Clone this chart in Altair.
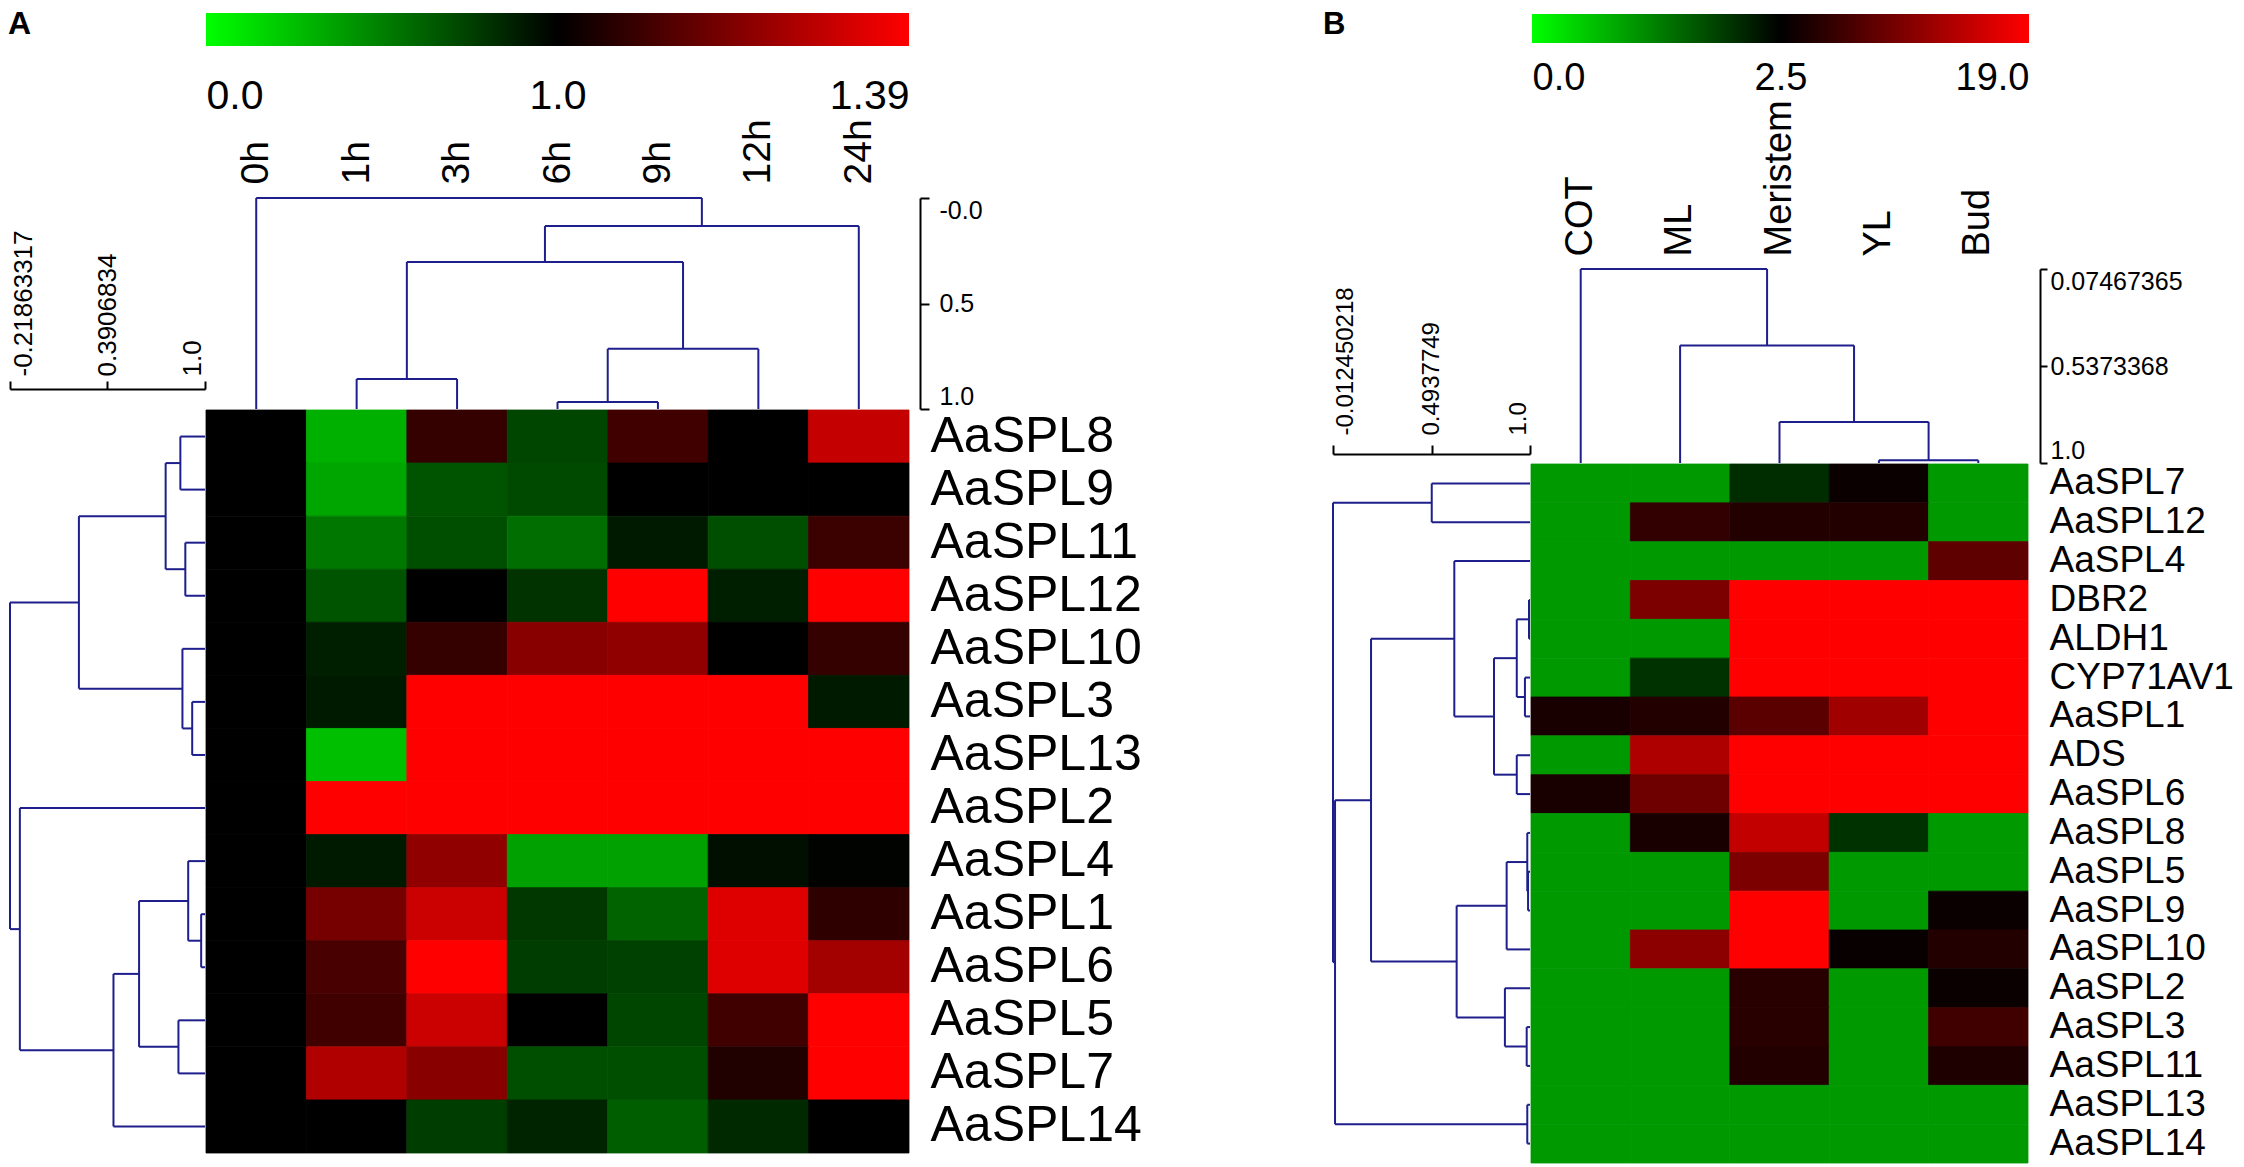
import altair as alt
import pandas as pd

FONT = "Liberation Sans"
DEND_COLOR = "#1e1e8c"
W, H = 2228, 1151

# ---------------- Panel A data ----------------
a_cols = ["0h", "1h", "3h", "6h", "9h", "12h", "24h"]
a_rows = ["AaSPL8", "AaSPL9", "AaSPL11", "AaSPL12", "AaSPL10", "AaSPL3", "AaSPL13",
          "AaSPL2", "AaSPL4", "AaSPL1", "AaSPL6", "AaSPL5", "AaSPL7", "AaSPL14"]
a_values = [
    [1.00, 0.31, 1.08, 0.73, 1.10, 1.00, 1.30],
    [1.00, 0.35, 0.67, 0.71, 1.00, 1.00, 1.00],
    [1.00, 0.53, 0.69, 0.57, 0.90, 0.69, 1.09],
    [1.00, 0.67, 1.00, 0.80, 1.39, 0.88, 1.39],
    [1.00, 0.88, 1.08, 1.21, 1.22, 1.00, 1.08],
    [1.00, 0.90, 1.39, 1.39, 1.39, 1.39, 0.90],
    [1.00, 0.25, 1.39, 1.39, 1.39, 1.39, 1.39],
    [1.00, 1.39, 1.39, 1.39, 1.39, 1.39, 1.39],
    [1.00, 0.90, 1.22, 0.37, 0.37, 0.94, 0.99],
    [1.00, 1.18, 1.31, 0.78, 0.61, 1.34, 1.07],
    [1.00, 1.11, 1.39, 0.76, 0.75, 1.34, 1.25],
    [1.00, 1.10, 1.31, 1.00, 0.73, 1.10, 1.39],
    [1.00, 1.27, 1.21, 0.69, 0.69, 1.05, 1.39],
    [1.00, 1.00, 0.76, 0.86, 0.63, 0.84, 1.00],
]
a_scale_ticks = [0.0, 1.0, 1.39]
a_scale_labels = ["0.0", "1.0", "1.39"]
# merges: (child, child, level); children >= n are earlier merges
a_col_merges = [(3, 4, 0.967), (7, 5, 0.715), (1, 2, 0.858), (9, 8, 0.303),
                (10, 6, 0.133), (0, 11, 0.0)]
a_col_ticks = [0.0, 0.5, 1.0]
a_col_tick_labels = ["-0.0", "0.5", "1.0"]
a_row_merges = [(0, 1, 0.846), (2, 3, 0.877), (14, 15, 0.754), (5, 6, 0.920),
                (4, 17, 0.859), (16, 18, 0.212), (9, 10, 0.976), (8, 20, 0.895),
                (11, 12, 0.834), (21, 22, 0.588), (23, 13, 0.428), (7, 24, -0.157),
                (19, 25, -0.21863317)]
a_row_ticks = [-0.21863317, 0.3906834, 1.0]
a_row_tick_labels = ["-0.21863317", "0.3906834", "1.0"]

# ---------------- Panel B data ----------------
b_cols = ["COT", "ML", "Meristem", "YL", "Bud"]
b_rows = ["AaSPL7", "AaSPL12", "AaSPL4", "DBR2", "ALDH1", "CYP71AV1", "AaSPL1", "ADS",
          "AaSPL6", "AaSPL8", "AaSPL5", "AaSPL9", "AaSPL10", "AaSPL2", "AaSPL3",
          "AaSPL11", "AaSPL13", "AaSPL14"]
b_values = [
    [1.0, 1.0, 2.06, 3.15, 1.0],
    [1.0, 5.74, 4.76, 4.76, 1.0],
    [1.0, 1.0, 1.0, 1.0, 8.65],
    [1.0, 10.6, 19.0, 19.0, 19.0],
    [1.0, 1.0, 19.0, 19.0, 19.0],
    [1.0, 2.01, 19.0, 19.0, 19.0],
    [4.12, 4.76, 8.32, 12.85, 19.0],
    [1.0, 13.82, 19.0, 19.0, 19.0],
    [4.12, 9.62, 19.0, 19.0, 19.0],
    [1.0, 4.12, 15.12, 2.01, 1.0],
    [1.0, 1.0, 10.6, 1.0, 1.0],
    [1.0, 1.0, 19.0, 1.0, 3.15],
    [1.0, 11.56, 19.0, 3.0, 4.76],
    [1.0, 1.0, 5.09, 1.0, 3.15],
    [1.0, 1.0, 5.09, 1.0, 6.71],
    [1.0, 1.0, 4.76, 1.0, 4.44],
    [1.0, 1.0, 1.0, 1.0, 1.0],
    [1.0, 1.0, 1.0, 1.0, 1.0],
]
b_scale_ticks = [0.0, 2.5, 19.0]
b_scale_labels = ["0.0", "2.5", "19.0"]
b_col_merges = [(3, 4, 0.987), (2, 5, 0.804), (1, 6, 0.439), (0, 7, 0.07467365)]
b_col_ticks = [0.07467365, 0.5373368, 1.0]
b_col_tick_labels = ["0.07467365", "0.5373368", "1.0"]
b_row_merges = [(0, 1, 0.495), (3, 4, 0.995), (5, 6, 0.974), (19, 20, 0.932),
                (7, 8, 0.932), (21, 22, 0.815), (2, 23, 0.611), (10, 11, 0.99),
                (9, 25, 0.986), (26, 12, 0.880), (14, 15, 0.983), (13, 28, 0.871),
                (27, 29, 0.623), (24, 30, 0.183), (16, 17, 0.986), (31, 32, -0.002),
                (18, 33, -0.012450218)]
b_row_ticks = [-0.012450218, 0.4937749, 1.0]
b_row_tick_labels = ["-0.012450218", "0.4937749", "1.0"]

panel_letters = ["A", "B"]

GREEN, BLACK, RED = "#00ff00", "#000000", "#ff0000"


def heat_frame(rows, cols, values):
    return pd.DataFrame([{"row": r, "col": c, "value": values[i][j]}
                         for i, r in enumerate(rows) for j, c in enumerate(cols)])


def dendro_frame(n, merges, leaf_level=1.0):
    pos = {i: float(i) for i in range(n)}
    lvl = {i: leaf_level for i in range(n)}
    segs = []
    for k, (a, b, h) in enumerate(merges):
        for c in (a, b):
            segs.append({"p": pos[c], "p2": pos[c], "h": lvl[c], "h2": h})
        segs.append({"p": pos[a], "p2": pos[b], "h": h, "h2": h})
        pos[n + k] = (pos[a] + pos[b]) / 2
        lvl[n + k] = h
    return pd.DataFrame(segs)


def label_expr(ticks, labels):
    expr = "''"
    for t, l in reversed(list(zip(ticks, labels))):
        expr = f"abs(datum.value - ({t})) < 1e-6 ? '{l}' : {expr}"
    return expr


def bracket_axis(orient, offset, ticks, labels, size, **kw):
    return alt.Axis(orient=orient, offset=offset, values=ticks,
                    labelExpr=label_expr(ticks, labels), title=None, grid=False,
                    domain=True, domainColor="black", domainWidth=2,
                    ticks=True, tickColor="black", tickWidth=2,
                    labelFont=FONT, labelFontSize=size, labelColor="black",
                    labelOverlap=False, labelBound=False, labelLimit=1000, **kw)


rot_baseline = {"condition": [{"test": "datum.value < 0", "value": "top"},
                              {"test": "datum.value >= 0.999", "value": "bottom"}],
                "value": "middle"}


def gradient():
    return alt.LinearGradient(gradient="linear", x1=0, x2=1, y1=0, y2=0,
                              stops=[alt.GradientStop(color=GREEN, offset=0),
                                     alt.GradientStop(color=BLACK, offset=0.5),
                                     alt.GradientStop(color=RED, offset=1)])


def colorbar(ticks, labels, xr, yr, offset, size):
    df = pd.DataFrame({"lo": [ticks[0]], "hi": [ticks[-1]], "bar": ["bar"]})
    return alt.Chart(df).mark_rect(color=gradient()).encode(
        x=alt.X("lo:Q", scale=alt.Scale(domain=ticks, range=xr, zero=False, nice=False),
                axis=alt.Axis(orient="top", offset=offset, values=ticks,
                              labelExpr=label_expr(ticks, labels), labelFlush=True,
                              labelBaseline="alphabetic", labelPadding=0,
                              ticks=False, tickSize=0, domain=False, grid=False,
                              labelFont=FONT, labelFontSize=size, labelColor="black",
                              labelOverlap=False, labelBound=False, title=None)),
        x2="hi",
        y=alt.Y("bar:N", scale=alt.Scale(range=yr, paddingInner=0, paddingOuter=0),
                axis=None),
    )


def letter(text, px, py, size):
    return alt.Chart(pd.DataFrame({"t": [text]})).mark_text(
        align="left", baseline="alphabetic", font=FONT, fontSize=size,
        fontWeight="bold", color="black").encode(
        text="t:N", x=alt.value(px), y=alt.value(py))


def heatmap(rows, cols, values, xr, yr, cscale, col_off, row_off, col_size, row_size):
    return alt.Chart(heat_frame(rows, cols, values)).mark_rect(strokeWidth=0.8).encode(
        x=alt.X("col:N", sort=cols,
                scale=alt.Scale(range=xr, paddingInner=0, paddingOuter=0),
                axis=alt.Axis(orient="top", offset=col_off, labelAngle=-90,
                              labelAlign="left", labelBaseline="middle", labelPadding=5,
                              ticks=False, tickSize=0, domain=False, grid=False,
                              labelFont=FONT, labelFontSize=col_size, labelColor="black",
                              labelOverlap=False, labelBound=False, labelLimit=1000,
                              title=None)),
        y=alt.Y("row:N", sort=rows,
                scale=alt.Scale(range=yr, paddingInner=0, paddingOuter=0),
                axis=alt.Axis(orient="right", offset=row_off, labelAlign="left",
                              labelBaseline="middle", labelPadding=21,
                              ticks=False, tickSize=0, domain=False, grid=False,
                              labelFont=FONT, labelFontSize=row_size, labelColor="black",
                              labelOverlap=False, labelBound=False, labelLimit=1000,
                              title=None)),
        color=alt.Color("value:Q", scale=cscale, legend=None),
        stroke=alt.Stroke("value:Q", scale=cscale, legend=None),
    )


def col_dendro(n, merges, xr, hdom, yr, axis):
    return alt.Chart(dendro_frame(n, merges)).mark_rule(
        color=DEND_COLOR, strokeWidth=2).encode(
        x=alt.X("p:Q", scale=alt.Scale(domain=[-0.5, n - 0.5], range=xr,
                                       zero=False, nice=False), axis=None),
        x2="p2",
        y=alt.Y("h:Q", scale=alt.Scale(domain=hdom, range=yr, zero=False, nice=False),
                axis=axis),
        y2="h2",
    )


def row_dendro(n, merges, xr, hdom, yr, axis):
    return alt.Chart(dendro_frame(n, merges)).mark_rule(
        color=DEND_COLOR, strokeWidth=2).encode(
        x=alt.X("h:Q", scale=alt.Scale(domain=hdom, range=xr, zero=False, nice=False),
                axis=axis),
        x2="h2",
        y=alt.Y("p:Q", scale=alt.Scale(domain=[-0.5, n - 0.5], range=yr,
                                       zero=False, nice=False), axis=None),
        y2="p2",
    )


color_a = alt.Scale(domain=a_scale_ticks, range=[GREEN, BLACK, RED],
                    interpolate="rgb", clamp=True)
color_b = alt.Scale(domain=b_scale_ticks, range=[GREEN, BLACK, RED],
                    interpolate="rgb", clamp=True)

# ---- panel A ----
lab_a = letter(panel_letters[0], 0, 25, 32)
cb_a = colorbar(a_scale_ticks, a_scale_labels, [198, 549.5, 901], [4, 37], -99, 41)
heat_a = heatmap(a_rows, a_cols, a_values, [198, 901], [401, 1144], color_a,
                 -180, 901 - W, 39, 50)
dcol_a = col_dendro(len(a_cols), a_col_merges, [198, 901], [0.0, 1.0], [189, 400],
                    bracket_axis("right", 912 - W, a_col_ticks, a_col_tick_labels, 25,
                                 tickSize=9, labelPadding=10, labelFlush=True))
drow_a = row_dendro(len(a_rows), a_row_merges, [2, 197], [a_row_ticks[0], 1.0],
                    [401, 1144],
                    bracket_axis("top", -380, a_row_ticks, a_row_tick_labels, 26,
                                 tickSize=8, labelPadding=5, labelAngle=-90,
                                 labelAlign="left", labelBaseline=rot_baseline))

# ---- panel B ----
lab_b = letter(panel_letters[1], 1315, 25, 31)
cb_b = colorbar(b_scale_ticks, b_scale_labels, [1524, 1772.5, 2021], [5, 34], -80, 38)
heat_b = heatmap(b_rows, b_cols, b_values, [1523, 2020], [455, 1154], color_b,
                 -252, 2020 - W, 38, 37)
dcol_b = col_dendro(len(b_cols), b_col_merges, [1523, 2020], [b_col_ticks[0], 1.0],
                    [260, 454],
                    bracket_axis("right", 2032 - W, b_col_ticks, b_col_tick_labels, 25,
                                 tickSize=7, labelPadding=3, labelFlush=True))
drow_b = row_dendro(len(b_rows), b_row_merges, [1325, 1522], [b_row_ticks[0], 1.0],
                    [455, 1154],
                    bracket_axis("top", -445, b_row_ticks, b_row_tick_labels, 24,
                                 tickSize=9, labelPadding=10, labelAngle=-90,
                                 labelAlign="left", labelBaseline=rot_baseline))

chart = alt.layer(lab_a, cb_a, heat_a, dcol_a, drow_a,
                  lab_b, cb_b, heat_b, dcol_b, drow_b).resolve_scale(
    x="independent", y="independent", color="independent", stroke="independent"
).properties(
    width=W, height=H, padding=0, background="white"
).configure_view(stroke=None)

chart.save("out.html", embed_options={"renderer": "svg", "actions": False})
